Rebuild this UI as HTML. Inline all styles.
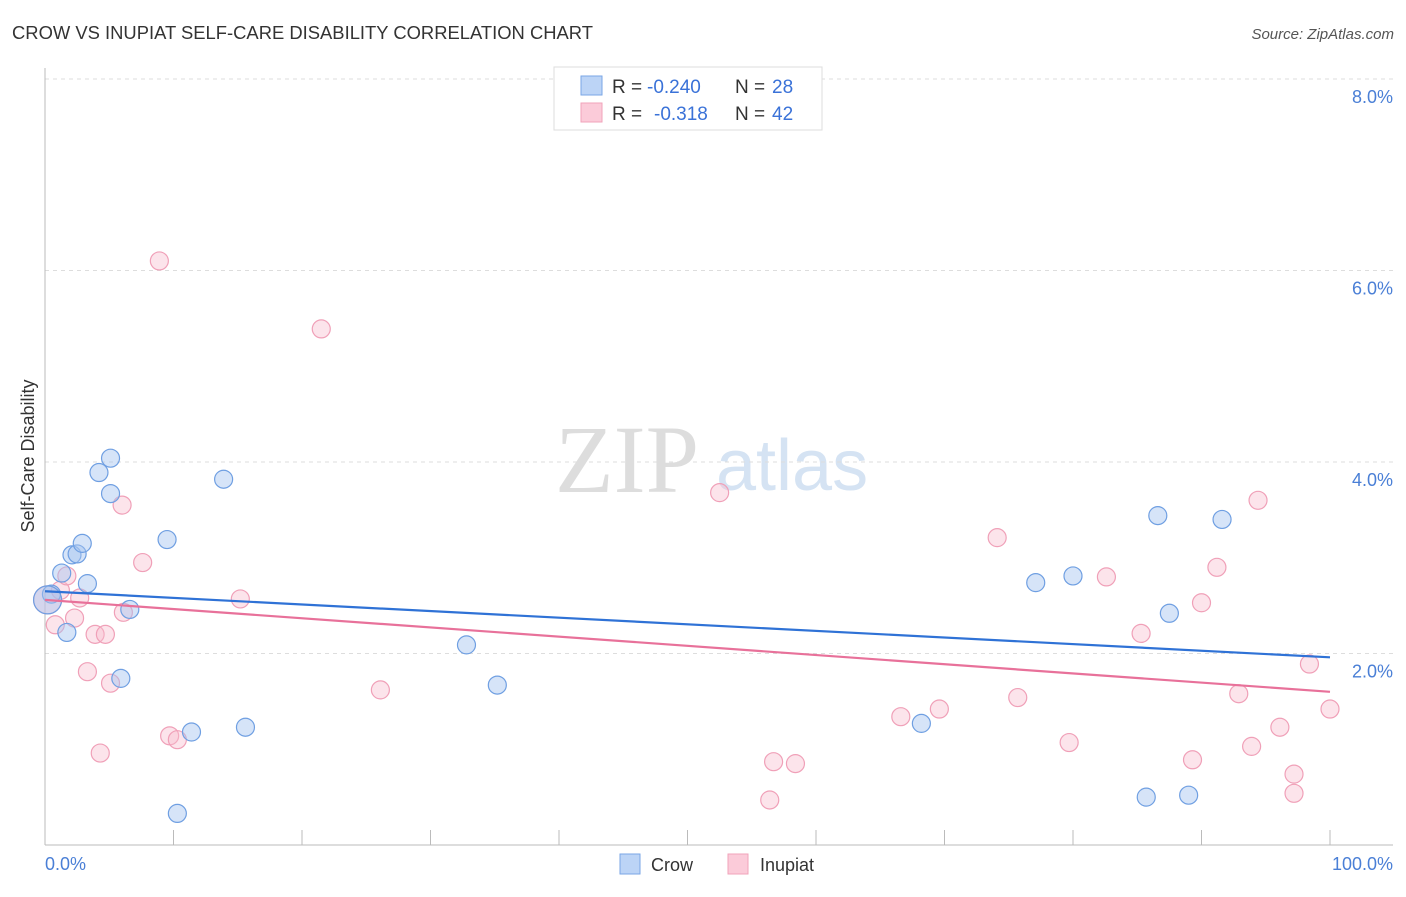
<!DOCTYPE html>
<html><head><meta charset="utf-8"><style>
body{margin:0;background:#fff;font-family:"Liberation Sans",sans-serif}
</style></head><body>
<svg id="c" width="1406" height="892" xmlns="http://www.w3.org/2000/svg" style="font-family:'Liberation Sans',sans-serif">
<text x="12" y="39" font-size="18" fill="#333" textLength="581" lengthAdjust="spacingAndGlyphs">CROW VS INUPIAT SELF-CARE DISABILITY CORRELATION CHART</text>
<text x="1394" y="39" font-size="15" fill="#555" font-style="italic" text-anchor="end">Source: ZipAtlas.com</text>
<g>
<text x="555" y="492" font-size="96" font-family="'Liberation Serif',serif" fill="#ddd">ZIP</text>
<text x="716" y="490" font-size="72" fill="#d5e3f3">atlas</text>
</g>
<g id="grid"></g>
<line x1="45" y1="68" x2="45" y2="845" stroke="#bbb"/>
<line x1="45" y1="845" x2="1393" y2="845" stroke="#bbb"/>
<g id="xt"></g>
<text x="45" y="870" font-size="18" fill="#4a7fd6">0.0%</text>
<text x="1393" y="870" font-size="18" fill="#4a7fd6" text-anchor="end">100.0%</text>
<text transform="translate(34,456) rotate(-90)" font-size="18" fill="#333" text-anchor="middle">Self-Care Disability</text>
<g id="pts"></g>
<g id="lines"></g>
<g>
<rect x="554" y="67" width="268" height="63" fill="#fff" stroke="#ddd"/>
<rect x="581" y="76" width="21" height="19" fill="#bcd4f6" stroke="#7aa6e6"/>
<rect x="581" y="103" width="21" height="19" fill="#fbcbd9" stroke="#f0a3ba"/>
<g font-size="19">
<text x="612" y="93" fill="#333">R =</text><text x="647" y="93" fill="#3a72d8">-0.240</text>
<text x="735" y="93" fill="#333">N =</text><text x="772" y="93" fill="#3a72d8">28</text></g>
<g font-size="19">
<text x="612" y="120" fill="#333">R =</text><text x="654" y="120" fill="#3a72d8">-0.318</text>
<text x="735" y="120" fill="#333">N =</text><text x="772" y="120" fill="#3a72d8">42</text></g>
</g>
<g>
<rect x="620" y="854" width="20" height="20" fill="#bcd4f6" stroke="#7aa6e6"/>
<text x="651" y="871" font-size="18" fill="#333">Crow</text>
<rect x="728" y="854" width="20" height="20" fill="#fbcbd9" stroke="#f0a3ba"/>
<text x="760" y="871" font-size="18" fill="#333">Inupiat</text>
</g>
</svg>
<script>
const yTicks=[2,4,6,8];
const yTickLabels=["2.0%","4.0%","6.0%","8.0%"];
const crowX=[0.5,1.3,1.7,2.1,2.5,2.9,3.3,4.2,5.1,5.1,5.9,6.6,9.5,10.3,11.4,13.9,15.6,32.8,35.2,68.2,77.1,80.0,85.7,86.6,87.5,89.0,91.6,0.2];
const crowY=[2.62,2.84,2.22,3.03,3.04,3.15,2.73,3.89,3.67,4.04,1.74,2.46,3.19,0.33,1.18,3.82,1.23,2.09,1.67,1.27,2.74,2.81,0.50,3.44,2.42,0.52,3.40,2.56];
const inuX=[0.2,0.8,1.2,1.7,2.3,2.7,3.3,3.9,4.3,4.7,5.1,6.0,6.1,7.6,8.9,9.7,10.3,15.2,21.5,26.1,52.5,56.7,56.4,58.4,66.6,69.6,74.1,75.7,79.7,82.6,85.3,89.3,90.0,91.2,92.9,93.9,94.4,96.1,97.2,97.2,98.4,100];
const inuY=[2.56,2.30,2.66,2.81,2.37,2.58,1.81,2.20,0.96,2.20,1.69,3.55,2.43,2.95,6.10,1.14,1.10,2.57,5.39,1.62,3.68,0.87,0.47,0.85,1.34,1.42,3.21,1.54,1.07,2.80,2.21,0.89,2.53,2.90,1.58,1.03,3.60,1.23,0.74,0.54,1.89,1.42];
const crowTrend=[2.65,1.96];
const inuTrend=[2.56,1.60];
const NS="http://www.w3.org/2000/svg";
const X=v=>45+v*12.85, Y=v=>845-v*95.75;
function mk(t,a,p){const e=document.createElementNS(NS,t);for(const k in a)e.setAttribute(k,a[k]);document.getElementById(p).appendChild(e);return e;}
yTicks.forEach((t,i)=>{
 const l=mk('line',{x1:45,x2:1393,y1:Y(t),y2:Y(t),stroke:'#ddd','stroke-dasharray':'4,4'},'grid');
 
 
 const tx=mk('text',{x:1393,y:Y(t)+24,'font-size':18,fill:'#4a7fd6','text-anchor':'end'},'grid');
 tx.textContent=yTickLabels[i];
 
 
});
for(let i=0;i<=10;i++){const l=mk('line',{x1:X(i*10),x2:X(i*10),y1:830,y2:845,stroke:'#bbb'},'xt');
 
 }
function pts(xs,ys,fill,stroke,name){xs.forEach((x,i)=>{const big=i===xs.length-1&&name==='crow-point'||i===0&&name==='inupiat-point';
 const c=mk('circle',{cx:X(x),cy:Y(ys[i]),r:big?14:9,fill:fill,stroke:stroke,'stroke-width':1.2},'pts');
 
 });}
pts(inuX,inuY,'rgba(248,188,206,0.4)','#f0a0b8','inupiat-point');
pts(crowX,crowY,'rgba(165,196,240,0.45)','#6f9fe2','crow-point');
const l1=mk('line',{x1:X(0),x2:X(100),y1:Y(crowTrend[0]),y2:Y(crowTrend[1]),stroke:'#2f72d6','stroke-width':2.2},'lines');


const l2=mk('line',{x1:X(0),x2:X(100),y1:Y(inuTrend[0]),y2:Y(inuTrend[1]),stroke:'#e8719a','stroke-width':2.2},'lines');


</script>
</body></html>
